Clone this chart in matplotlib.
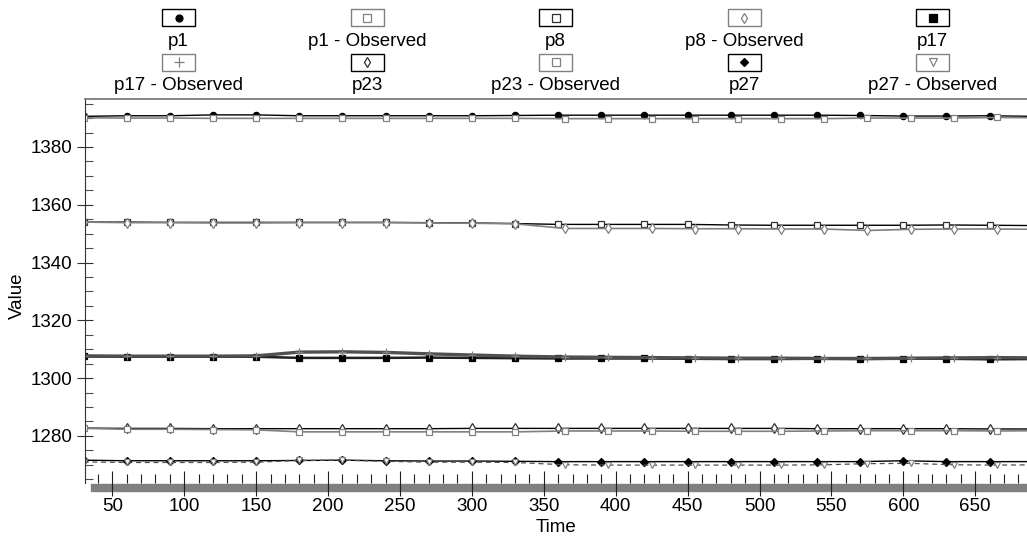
import numpy as np
import matplotlib
matplotlib.use("Agg")
import matplotlib.pyplot as plt
from matplotlib.patches import Rectangle
from matplotlib.lines import Line2D
from matplotlib.ticker import MultipleLocator

plt.rcParams['font.family'] = ['Liberation Sans', 'DejaVu Sans']

# ---- data
t_model = [30, 60, 90, 120, 150, 180, 210, 240, 270, 300, 330, 360,
           390, 420, 450, 480, 510, 540, 570, 600, 630, 660, 690]
t_obs = [30, 60, 90, 120, 150, 180, 210, 240, 270, 300, 330, 365,
         395, 425, 455, 485, 515, 545, 575, 605, 635, 665, 695]

p1 = [1390.6, 1390.8, 1390.8, 1391.1, 1391.1, 1390.8, 1390.8, 1390.8, 1390.8, 1390.8, 1390.9, 1391.0,
      1391.0, 1391.0, 1391.0, 1391.0, 1391.0, 1391.0, 1390.9, 1390.7, 1390.7, 1390.8, 1390.6]
p1_obs = [1390.1, 1390.0, 1390.0, 1389.9, 1389.9, 1389.9, 1389.9, 1389.9, 1389.9, 1389.9, 1389.9, 1389.8,
          1389.8, 1389.8, 1389.8, 1389.8, 1389.8, 1389.8, 1390.0, 1390.0, 1390.0, 1390.2, 1390.1]
p8 = [1354.0, 1354.0, 1353.9, 1353.9, 1353.9, 1353.9, 1353.9, 1353.9, 1353.8, 1353.7, 1353.5, 1353.2,
      1353.2, 1353.2, 1353.2, 1353.0, 1352.9, 1352.9, 1352.9, 1352.9, 1353.0, 1352.9, 1352.8]
p8_obs = [1354.0, 1353.8, 1353.8, 1353.7, 1353.7, 1353.8, 1353.8, 1353.8, 1353.7, 1353.6, 1353.4, 1351.8,
          1351.8, 1351.8, 1351.7, 1351.7, 1351.6, 1351.6, 1351.1, 1351.5, 1351.6, 1351.6, 1351.5]
p17 = [1307.5, 1307.4, 1307.4, 1307.4, 1307.4, 1307.0, 1307.0, 1307.0, 1307.1, 1307.0, 1306.9, 1306.8,
       1306.8, 1306.8, 1306.7, 1306.6, 1306.6, 1306.7, 1306.6, 1306.7, 1306.7, 1306.5, 1306.6]
p17_obs = [1307.7, 1307.6, 1307.6, 1307.6, 1307.7, 1309.0, 1309.1, 1308.9, 1308.4, 1308.0, 1307.6, 1307.3,
           1307.2, 1307.1, 1307.0, 1306.9, 1306.9, 1306.8, 1306.8, 1306.9, 1307.0, 1307.1, 1307.0]
p23 = [1282.7, 1282.6, 1282.6, 1282.5, 1282.5, 1282.5, 1282.5, 1282.5, 1282.5, 1282.6, 1282.6, 1282.6,
       1282.6, 1282.6, 1282.6, 1282.6, 1282.6, 1282.5, 1282.5, 1282.5, 1282.5, 1282.4, 1282.4]
p23_obs = [1282.6, 1282.3, 1282.3, 1282.2, 1282.1, 1281.4, 1281.4, 1281.4, 1281.4, 1281.4, 1281.4, 1281.7,
           1281.7, 1281.7, 1281.6, 1281.6, 1281.6, 1281.7, 1281.8, 1281.8, 1281.8, 1281.7, 1281.8]
p27 = [1271.6, 1271.4, 1271.4, 1271.4, 1271.4, 1271.5, 1271.6, 1271.4, 1271.3, 1271.3, 1271.2, 1271.1,
       1271.1, 1271.1, 1271.1, 1271.1, 1271.1, 1271.1, 1271.1, 1271.4, 1271.1, 1271.1, 1271.1]
p27_obs = [1271.0, 1270.8, 1270.8, 1270.8, 1270.9, 1271.5, 1271.6, 1271.2, 1270.9, 1270.9, 1270.8, 1270.0,
           1269.9, 1269.9, 1269.9, 1269.9, 1269.9, 1270.0, 1270.4, 1270.5, 1270.0, 1269.9, 1270.0]

names = ['p1', 'p1 - Observed', 'p8', 'p8 - Observed', 'p17',
         'p17 - Observed', 'p23', 'p23 - Observed', 'p27', 'p27 - Observed']

BLK = 'black'
GRY = '#808080'

# name: (times, values, line color, lw, linestyle, marker, ms, face, edge)
series = [
    ('p1', t_model, p1, BLK, 1.0, '-', 'o', 4.5, BLK, BLK),
    ('p1 - Observed', t_obs, p1_obs, GRY, 1.2, '-', 's', 5, 'white', GRY),
    ('p8', t_model, p8, BLK, 1.0, '-', 's', 5, 'white', '#303030'),
    ('p8 - Observed', t_obs, p8_obs, GRY, 1.2, '-', 'd', 5, 'white', GRY),
    ('p17', t_model, p17, '#202020', 1.8, '-', 's', 5, BLK, BLK),
    ('p17 - Observed', t_obs, p17_obs, '#505050', 2.4, '-', '+', 6, GRY, GRY),
    ('p23', t_model, p23, BLK, 1.0, '-', 'd', 5, 'white', '#303030'),
    ('p23 - Observed', t_obs, p23_obs, GRY, 1.2, '-', 's', 5, 'white', GRY),
    ('p27', t_model, p27, BLK, 1.0, '-', 'D', 4, BLK, BLK),
    ('p27 - Observed', t_obs, p27_obs, '#505050', 0.9, (0, (4, 3)), 'v', 5, 'white', GRY),
]

W, H = 1027, 538
fig = plt.figure(figsize=(W / 100, H / 100), dpi=100)
ax = fig.add_axes([85 / W, 1 - 483 / H, (W - 85) / W, (483 - 99) / H])

for name, tt, vv, c, lw, ls, mk, ms, fc, ec in series:
    ax.plot(tt, vv, color=c, lw=lw, linestyle=ls, marker=mk, markersize=ms,
            markerfacecolor=fc, markeredgecolor=ec, markeredgewidth=0.9)

ax.set_xlim(31, 686)
ax.set_ylim(1263.7, 1396.6)

ax.xaxis.set_major_locator(MultipleLocator(50))
ax.xaxis.set_minor_locator(MultipleLocator(10))
ax.yaxis.set_major_locator(MultipleLocator(20))
ax.yaxis.set_minor_locator(MultipleLocator(5))

ax.tick_params(axis='x', which='major', direction='inout', length=18, width=0.8,
               color='#202020', labelsize=13.5, pad=2)
ax.tick_params(axis='x', which='minor', direction='in', length=6.5, width=0.8, color='#202020')
ax.tick_params(axis='y', which='major', direction='inout', length=12, width=0.8,
               color='#303030', labelsize=13.5, pad=3)
ax.tick_params(axis='y', which='minor', direction='in', length=5.8, width=0.8, color='#505050')

ax.spines['right'].set_visible(False)
ax.spines['bottom'].set_visible(False)
ax.spines['left'].set_color('#303030')
ax.spines['top'].set_color('#707070')
ax.spines['top'].set_linewidth(1.2)

fig.add_artist(Rectangle((91 / W, 1 - 491 / H), (W - 91) / W, 7 / H,
                         transform=fig.transFigure, color=GRY, zorder=-1))

fig.text(17 / W, 1 - 296 / H, 'Value', rotation=90, ha='center', va='center', fontsize=13.5)
fig.text(556 / W, 1 - 527 / H, 'Time', ha='center', va='center', fontsize=13.5)

# ---- legend drawn by hand: 2 rows of 5 boxes with labels below
col_x = [178.5, 367, 555.5, 744, 932.5]
box_y = [17.5, 62]
lab_y = [41, 85]
for i, (name, tt, vv, c, lw, ls, mk, ms, fc, ec) in enumerate(series):
    r, k = divmod(i, 5)
    cx, cy = col_x[k], box_y[r]
    edge = GRY if 'Observed' in name else BLK
    fig.add_artist(Rectangle(((cx - 16.5) / W, 1 - (cy + 8.5) / H), 33 / W, 17 / H,
                             transform=fig.transFigure, facecolor='white',
                             edgecolor=edge, lw=1.0))
    fig.add_artist(Line2D([cx / W], [1 - cy / H], transform=fig.transFigure,
                          marker=mk, markersize=ms + 0.5, markerfacecolor=fc,
                          markeredgecolor=ec, markeredgewidth=0.9, linestyle='none'))
    fig.text(cx / W, 1 - lab_y[r] / H, name, ha='center', va='center', fontsize=13.5)

fig.savefig('out.png', dpi=100)
